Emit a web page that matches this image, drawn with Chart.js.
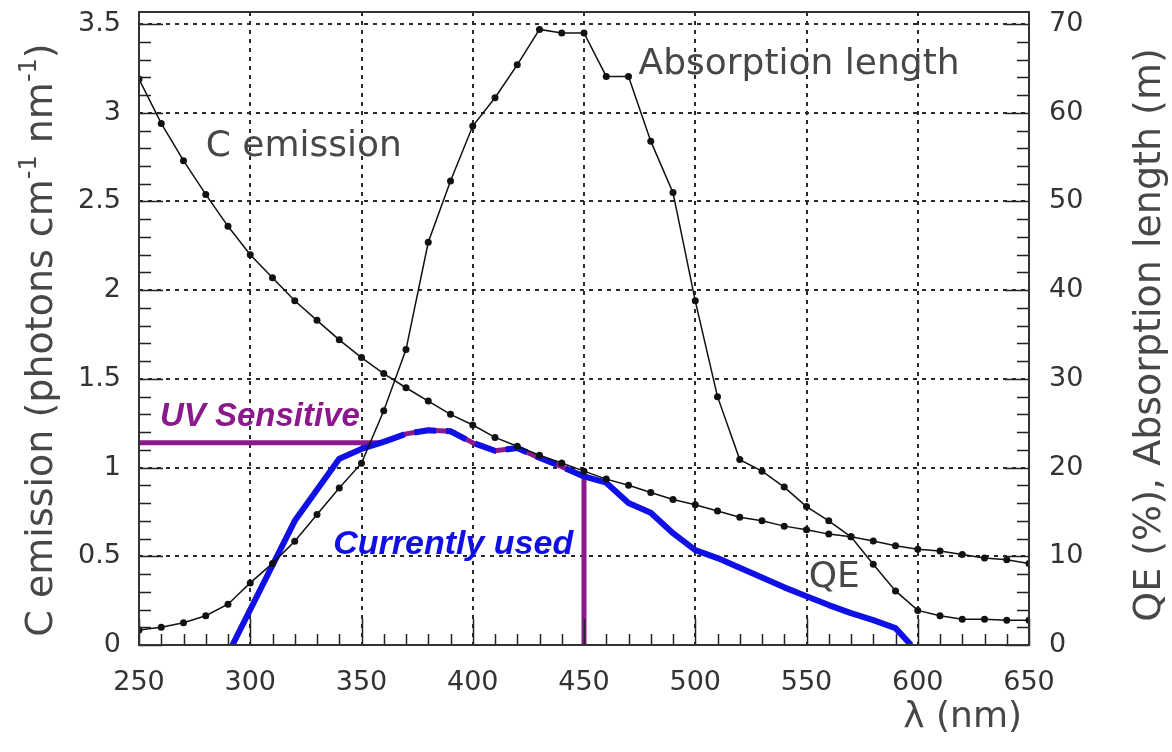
<!DOCTYPE html>
<html>
<head>
<meta charset="utf-8">
<script src="https://cdn.jsdelivr.net/npm/chart.js@4.4.1/dist/chart.umd.min.js"></script>
<style>
  html, body { margin: 0; padding: 0; background: #fff; }
  canvas { display: block; }
</style>
</head>
<body>
<canvas id="chart" width="1172" height="752"></canvas>
<script>
// wavelength grid (nm) for the emission and absorption curves
const wavelengths = [250, 260, 270, 280, 290, 300, 310, 320, 330, 340, 350, 360, 370, 380, 390, 400,
    410, 420, 430, 440, 450, 460, 470, 480, 490, 500, 510, 520, 530, 540, 550, 560, 570, 580, 590, 600,
    610, 620, 630, 640, 650];

// Cherenkov emission (photons cm^-1 nm^-1), left axis
const emission = [3.19, 2.94, 2.73, 2.54, 2.36, 2.20, 2.07, 1.94, 1.83, 1.72, 1.62, 1.53, 1.45, 1.375, 1.30, 1.24,
    1.17, 1.12, 1.07, 1.026, 0.98, 0.935, 0.90, 0.86, 0.82, 0.79, 0.755, 0.72, 0.70, 0.67, 0.65, 0.625, 0.61, 0.586, 0.56, 0.54,
    0.53, 0.51, 0.49, 0.48, 0.46];

// absorption length (m), right axis
const absorption = [1.7, 2.0, 2.5, 3.3, 4.6, 7.0, 9.2, 11.7, 14.7, 17.7, 20.5, 26.4, 33.3, 45.4, 52.3, 58.5,
    61.7, 65.4, 69.4, 69.0, 69.0, 64.1, 64.1, 56.8, 51.0, 38.8, 28.0, 20.9, 19.6, 17.8, 15.6, 14.0, 12.2, 9.1, 6.1, 3.9,
    3.3, 2.9, 2.9, 2.8, 2.8];

// quantum efficiency of the PMT currently used (%), right axis
const qeWavelengths = [292, 320, 330, 340, 350, 360, 370, 380, 390, 400, 410, 420, 430, 440, 450, 460, 470, 480,
    490, 500, 510, 520, 530, 540, 550, 560, 570, 580, 590, 597];
const qeValues = [0, 14.0, 17.5, 21.0, 22.1, 22.9, 23.8, 24.2, 24.1, 22.8, 21.9, 22.2, 21.1, 20.1, 19.0, 18.3, 16.0, 14.9,
    12.6, 10.7, 9.8, 8.7, 7.6, 6.5, 5.5, 4.5, 3.6, 2.8, 1.9, 0];

// UV sensitive PMT envelope (%), right axis
const uvWavelengths = [250, 358, 360, 370, 380, 390, 400, 410, 420, 430, 440, 450, 450];
const uvValues = [22.8, 22.8, 22.9, 23.8, 24.2, 24.1, 22.8, 21.9, 22.2, 21.1, 20.1, 19.0, 0];

// tick labels
const xTicks = [250, 300, 350, 400, 450, 500, 550, 600, 650];
const yTicks = [0, 0.5, 1, 1.5, 2, 2.5, 3, 3.5];
const y2Ticks = [0, 10, 20, 30, 40, 50, 60, 70];

const INK = '#333';
const TEXT = '#474747';
const PURPLE = 'rgb(140, 25, 140)';
const BLUE = 'rgb(15, 15, 230)';

const pairs = (xs, ys) => xs.map((v, i) => ({ x: v, y: ys[i] }));

Chart.defaults.font.family = 'DejaVu Sans';
Chart.defaults.color = INK;

// keep the frame fixed: no extra room for half labels
const fixSize = (prop, size) => s => {
    s[prop] = size;
    s.paddingTop = 0; s.paddingBottom = 0; s.paddingLeft = 0; s.paddingRight = 0;
};

// inner ticks, frame, annotations and axis titles
const decorations = {
    id: 'decorations',
    afterDraw(chart) {
        const { ctx, chartArea: a } = chart;
        const { x, y, y2 } = chart.scales;
        ctx.save();

        // ticks pointing into the frame
        ctx.strokeStyle = '#222';
        ctx.lineWidth = 1.5;
        ctx.beginPath();
        for (let i = 0; i <= 35; i++) {
            const py = Math.round(y.getPixelForValue(i / 10)) + 0.5;
            ctx.moveTo(a.left, py);
            ctx.lineTo(a.left + (i % 5 === 0 ? 24 : 12), py);
        }
        for (let i = 0; i <= 35; i++) {
            const py = Math.round(y2.getPixelForValue(i * 2)) + 0.5;
            ctx.moveTo(a.right, py);
            ctx.lineTo(a.right - (i % 5 === 0 ? 24 : 12), py);
        }
        for (let v = 250; v <= 650; v += 10) {
            const px = Math.round(x.getPixelForValue(v)) + 0.5;
            ctx.moveTo(px, a.bottom);
            ctx.lineTo(px, a.bottom - (v % 50 === 0 ? 26 : 11));
        }
        ctx.stroke();

        // frame
        ctx.lineWidth = 2;
        ctx.strokeStyle = '#333';
        ctx.strokeRect(a.left, a.top, a.right - a.left, a.bottom - a.top);

        // curve labels
        const note = (text, xv, yv, font, color) => {
            ctx.font = font;
            ctx.fillStyle = color;
            ctx.textAlign = 'left';
            ctx.textBaseline = 'middle';
            ctx.fillText(text, x.getPixelForValue(xv), y.getPixelForValue(yv));
        };
        note('C emission', 280, 2.81, '36px DejaVu Sans', TEXT);
        note('Absorption length', 474.5, 3.27, '36px DejaVu Sans', TEXT);
        note('QE', 551, 0.378, '36px DejaVu Sans', TEXT);
        note('UV Sensitive', 259.4, 1.285, 'italic bold 33px Liberation Sans', PURPLE);
        note('Currently used', 337.3, 0.564, 'italic bold 34px Liberation Sans', BLUE);

        // left axis title with superscripts, reading bottom to top
        const parts = [['C emission (photons cm', false], ['-1', true], [' nm', false], ['-1', true], [')', false]];
        const big = '38px DejaVu Sans', small = '24px DejaVu Sans';
        let total = 0;
        parts.forEach(([t, sup]) => { ctx.font = sup ? small : big; total += ctx.measureText(t).width; });
        ctx.save();
        ctx.translate(38, 340);
        ctx.rotate(-Math.PI / 2);
        ctx.fillStyle = TEXT;
        ctx.textAlign = 'left';
        ctx.textBaseline = 'alphabetic';
        let cx = -total / 2;
        parts.forEach(([t, sup]) => {
            ctx.font = sup ? small : big;
            ctx.fillText(t, cx, sup ? -2 : 14);
            cx += ctx.measureText(t).width;
        });
        ctx.restore();

        // right axis title
        ctx.save();
        ctx.translate(1150, 335);
        ctx.rotate(-Math.PI / 2);
        ctx.font = '38px DejaVu Sans';
        ctx.fillStyle = TEXT;
        ctx.textAlign = 'center';
        ctx.textBaseline = 'middle';
        ctx.fillText('QE (%), Absorption length (m)', 0, 0);
        ctx.restore();

        // x axis title
        ctx.font = '36px DejaVu Sans';
        ctx.fillStyle = TEXT;
        ctx.textAlign = 'right';
        ctx.textBaseline = 'middle';
        ctx.fillText('λ (nm)', 1022, 718);

        ctx.restore();
    }
};

const ctx = document.getElementById('chart').getContext('2d');
new Chart(ctx, {
    type: 'scatter',
    data: {
        datasets: [
            {
                label: 'C emission',
                data: pairs(wavelengths, emission),
                yAxisID: 'y',
                showLine: true,
                borderColor: '#111',
                borderWidth: 1.5,
                pointRadius: 3.5,
                pointBackgroundColor: '#111',
                pointBorderWidth: 0,
                order: 0
            },
            {
                label: 'Absorption length',
                data: pairs(wavelengths, absorption),
                yAxisID: 'y2',
                showLine: true,
                borderColor: '#111',
                borderWidth: 1.5,
                pointRadius: 3.5,
                pointBackgroundColor: '#111',
                pointBorderWidth: 0,
                order: 0
            },
            {
                label: 'QE',
                data: pairs(qeWavelengths, qeValues),
                yAxisID: 'y2',
                showLine: true,
                borderColor: BLUE,
                borderWidth: 6,
                pointRadius: 0,
                borderJoinStyle: 'round',
                segment: {
                    borderDash: c => (c.p0.parsed.x >= 358 && c.p1.parsed.x <= 450) ? [22, 10] : undefined
                },
                order: 1
            },
            {
                label: 'UV Sensitive',
                data: pairs(uvWavelengths, uvValues),
                yAxisID: 'y2',
                showLine: true,
                borderColor: PURPLE,
                borderWidth: 5,
                pointRadius: 0,
                order: 2
            }
        ]
    },
    options: {
        responsive: false,
        animation: false,
        devicePixelRatio: 1,
        layout: { padding: { top: 12, left: 0, right: 0, bottom: 0 } },
        plugins: { legend: { display: false }, tooltip: { enabled: false } },
        scales: {
            x: {
                type: 'linear',
                position: 'bottom',
                min: 250, max: 650,
                afterBuildTicks: s => { s.ticks = xTicks.map(v => ({ value: v })); },
                afterFit: fixSize('height', 107),
                ticks: { font: { size: 27 }, color: INK, padding: 22, maxRotation: 0, callback: v => String(v) },
                grid: { color: '#2a2a2a', lineWidth: 2, drawTicks: false },
                border: { display: false, dash: [4, 5] }
            },
            y: {
                position: 'left',
                min: 0, max: 3.568,
                afterBuildTicks: s => { s.ticks = yTicks.map(v => ({ value: v })); },
                afterFit: fixSize('width', 139),
                ticks: { font: { size: 27 }, color: INK, padding: 18, callback: v => String(v) },
                grid: { color: '#2a2a2a', lineWidth: 2, drawTicks: false },
                border: { display: false, dash: [4, 5] }
            },
            y2: {
                position: 'right',
                min: 0, max: 71.36,
                afterBuildTicks: s => { s.ticks = y2Ticks.map(v => ({ value: v })); },
                afterFit: fixSize('width', 143),
                ticks: { font: { size: 27 }, color: INK, padding: 20, callback: v => String(v) },
                grid: { display: false, drawTicks: false },
                border: { display: false }
            }
        }
    },
    plugins: [decorations]
});
</script>
</body>
</html>
